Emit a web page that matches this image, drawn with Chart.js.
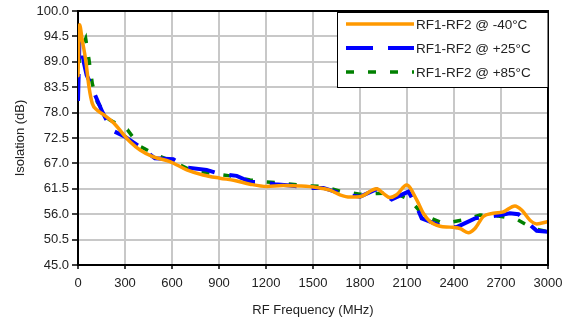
<!DOCTYPE html>
<html>
<head>
<meta charset="utf-8">
<script src="https://cdn.jsdelivr.net/npm/chart.js@4/dist/chart.umd.min.js"></script>
<style>
  html, body { margin: 0; padding: 0; background: #fff; }
  #wrap { width: 566px; height: 320px; }
</style>
</head>
<body>
<div id="wrap"><canvas id="c" width="566" height="320"></canvas></div>
<script>
// ---- data ----
const seriesLabels = ['RF1-RF2 @ -40°C', 'RF1-RF2 @ +25°C', 'RF1-RF2 @ +85°C'];

const freqM40 = [0, 10, 27, 49, 70, 91, 123, 166, 230, 294, 332, 396, 481, 587, 694, 798, 906, 1000, 1098, 1204, 1310, 1417, 1523, 1608, 1672, 1736, 1800, 1906, 1949, 1991, 2034, 2098, 2162, 2204, 2247, 2311, 2374, 2438, 2491, 2534, 2587, 2651, 2715, 2789, 2832, 2885, 2928, 3000];
const isoM40  = [86, 97, 93.7, 89.4, 83.6, 80, 78.5, 77.5, 75.7, 73.1, 71.7, 69.9, 68.4, 67.4, 65.6, 64.5, 63.8, 63.3, 62.5, 62.0, 62.2, 62.1, 61.8, 61.2, 60.2, 59.7, 59.8, 61.5, 60.5, 59.6, 60.2, 62.3, 59.1, 56.2, 54.4, 53.4, 53.2, 52.9, 52.0, 52.9, 55.5, 56.2, 56.5, 57.8, 56.9, 54.7, 53.9, 54.4];

const freqP25 = [0, 10, 38, 55, 91, 100, 155, 215, 300, 406, 491, 608, 694, 821, 906, 1013, 1098, 1194, 1257, 1353, 1481, 1566, 1630, 1715, 1800, 1906, 2002, 2109, 2162, 2194, 2247, 2332, 2417, 2534, 2630, 2694, 2757, 2811, 2853, 2885, 2928, 3000];
const isoP25  = [80.5, 94.5, 88.7, 86.1, 83.6, 82.5, 78.2, 74.2, 72.8, 70.3, 68.1, 67.9, 66.1, 65.6, 64.7, 64.3, 63.0, 62.9, 62.5, 62.2, 61.7, 61.7, 61.0, 60.2, 59.8, 61.4, 59.2, 60.9, 57.6, 55.1, 54.4, 53.3, 53.2, 55.1, 55.5, 55.8, 56.2, 56.0, 54.7, 53.7, 52.4, 52.2];

const freqP85 = [0, 10, 49, 70, 91, 123, 198, 315, 395, 502, 608, 715, 843, 970, 1098, 1204, 1310, 1438, 1566, 1672, 1800, 1906, 2023, 2119, 2204, 2332, 2449, 2566, 2683, 2800, 2906, 3000];
const isoP85  = [84, 91, 94, 89.5, 84.3, 80.3, 76.5, 74.3, 70.7, 68.8, 67.4, 65.6, 64.9, 64.3, 63.4, 63.0, 62.7, 62.2, 62.0, 61.0, 60.3, 60.5, 60.6, 59.1, 55.8, 54.0, 54.7, 55.8, 55.6, 54.9, 52.9, 52.2];

const xTicks = [0, 300, 600, 900, 1200, 1500, 1800, 2100, 2400, 2700, 3000];
const yTicks = [45.0, 50.5, 56.0, 61.5, 67.0, 72.5, 78.0, 83.5, 89.0, 94.5, 100.0];

const xTitle = 'RF Frequency (MHz)';
const yTitle = 'Isolation (dB)';

// ---- chart ----
const FONT = "'Liberation Sans', Arial, sans-serif";
const toPts = (xs, ys) => xs.map((x, i) => ({ x: x, y: ys[i] }));

const legendPlugin = {
  id: 'boxLegend',
  afterDraw(chart) {
    const ctx = chart.ctx;
    const ca = chart.chartArea;
    ctx.save();
    // plot frame (top & right)
    ctx.strokeStyle = '#000';
    ctx.lineWidth = 2;
    ctx.beginPath();
    ctx.moveTo(ca.left, ca.top);
    ctx.lineTo(ca.right, ca.top);
    ctx.lineTo(ca.right, ca.bottom);
    ctx.stroke();
    // legend box
    const bx = 337.5, by = 12.5, bw = Math.round(ca.right) - 337.5, bh = 75;
    ctx.fillStyle = '#fff';
    ctx.fillRect(bx, by, bw, bh);
    ctx.lineWidth = 1;
    ctx.strokeStyle = '#000';
    ctx.strokeRect(bx, by, bw, bh);
    const rows = [24, 48, 72];
    chart.data.datasets.forEach((ds, i) => {
      const y = rows[i];
      ctx.strokeStyle = ds.borderColor;
      ctx.lineWidth = ds.borderWidth;
      ctx.lineCap = 'butt';
      ctx.setLineDash(ds.borderDash || []);
      ctx.lineDashOffset = 0;
      ctx.beginPath();
      ctx.moveTo(346, y);
      ctx.lineTo(414, y);
      ctx.stroke();
      ctx.setLineDash([]);
      ctx.fillStyle = '#222';
      ctx.font = '13.5px ' + FONT;
      ctx.textBaseline = 'middle';
      ctx.textAlign = 'left';
      ctx.fillText(ds.label, 416, y + 1);
    });
    ctx.restore();
  }
};

new Chart(document.getElementById('c'), {
  type: 'scatter',
  data: {
    datasets: [
      {
        label: seriesLabels[0],
        data: toPts(freqM40, isoM40),
        showLine: true,
        borderColor: '#FF9900',
        backgroundColor: '#FF9900',
        borderWidth: 3.5,
        pointRadius: 0,
        cubicInterpolationMode: 'monotone',
        borderCapStyle: 'round',
        borderJoinStyle: 'round'
      },
      {
        label: seriesLabels[1],
        data: toPts(freqP25, isoP25),
        showLine: true,
        borderColor: '#0000FF',
        backgroundColor: '#0000FF',
        borderWidth: 4,
        borderDash: [27, 15],
        pointRadius: 0,
        tension: 0
      },
      {
        label: seriesLabels[2],
        data: toPts(freqP85, isoP85),
        showLine: true,
        borderColor: '#008000',
        backgroundColor: '#008000',
        borderWidth: 3.5,
        borderDash: [8, 14],
        pointRadius: 0,
        tension: 0
      }
    ]
  },
  options: {
    responsive: false,
    animation: false,
    devicePixelRatio: 1,
    layout: { padding: { left: 0, top: 11, right: 18, bottom: 0 } },
    plugins: {
      legend: { display: false },
      tooltip: { enabled: false }
    },
    scales: {
      x: {
        type: 'linear',
        min: 0,
        max: 3000,
        afterBuildTicks: (s) => { s.ticks = xTicks.map(v => ({ value: v })); },
        afterFit: (s) => { s.height = 55; s.paddingRight = 0; s.paddingLeft = 0; },
        grid: { color: '#c8c8c8', lineWidth: 2, tickLength: 4, tickColor: '#000', tickWidth: 1.5 },
        border: { color: '#000', width: 2 },
        ticks: {
          color: '#222',
          font: { family: FONT, size: 13 },
          padding: 7,
          maxRotation: 0,
          callback: (v) => String(v)
        },
        title: {
          display: true,
          text: xTitle,
          color: '#222',
          font: { family: FONT, size: 13 },
          padding: { top: 0, bottom: 2 }
        }
      },
      y: {
        type: 'linear',
        min: 45,
        max: 100,
        afterBuildTicks: (s) => { s.ticks = yTicks.map(v => ({ value: v })); },
        afterFit: (s) => { s.width = 78; s.paddingTop = 0; s.paddingBottom = 0; },
        grid: { color: '#c8c8c8', lineWidth: 2, tickLength: 6, tickColor: '#000', tickWidth: 1.5 },
        border: { color: '#000', width: 2 },
        ticks: {
          color: '#222',
          font: { family: FONT, size: 13 },
          padding: 3,
          callback: (v) => Number(v).toFixed(1)
        },
        title: {
          display: true,
          text: yTitle,
          color: '#222',
          font: { family: FONT, size: 13 },
          padding: { top: 13, bottom: 0 }
        }
      }
    }
  },
  plugins: [legendPlugin]
});
</script>
</body>
</html>
